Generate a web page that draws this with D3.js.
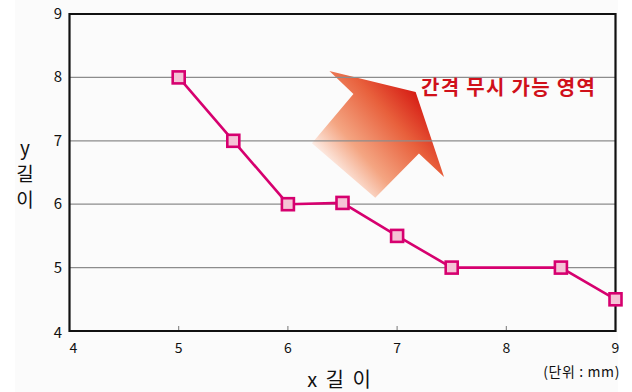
<!DOCTYPE html>
<html>
<head>
<meta charset="utf-8">
<script src="https://cdn.jsdelivr.net/npm/d3@7"></script>
<style>
  html, body { margin: 0; padding: 0; background: #ffffff; }
  svg { display: block; }
  text { font-family: "Noto Sans CJK KR", "Noto Sans", sans-serif; }
</style>
</head>
<body>
<svg id="chart" width="632" height="392"></svg>
<script>
// Measured length pairs (mm)
const xValues = [5, 5.5, 6, 6.5, 7, 7.5, 8.5, 9];
const yValues = [8, 7, 6, 6.02, 5.5, 5, 5, 4.5];
const xTicks = [4, 5, 6, 7, 8, 9];
const yTicks = [4, 5, 6, 7, 8, 9];
const regionLabel = "간격 무시 가능 영역";
const unitLabel = "(단위 : mm)";

const svg = d3.select("#chart");
const margin = { left: 69.5, right: 615.5, top: 14, bottom: 331 };

const x = d3.scaleLinear().domain([4, 9]).range([margin.left, margin.right]);
const y = d3.scaleLinear().domain([4, 9]).range([margin.bottom, margin.top]);

// light panel behind the chart
svg.append("rect").attr("x", 15).attr("y", 0).attr("width", 603).attr("height", 392)
  .attr("fill", "#fbfbfb");

// gradient arrow marking the negligible-gap region
const defs = svg.append("defs");
const grad = defs.append("linearGradient").attr("id", "arrowGrad")
  .attr("gradientUnits", "userSpaceOnUse")
  .attr("x1", x(7.2)).attr("y1", y(7.95))
  .attr("x2", x(6.3)).attr("y2", y(6.6));
grad.append("stop").attr("offset", 0).attr("stop-color", "#d10a0a");
grad.append("stop").attr("offset", 0.35).attr("stop-color", "#e8603c");
grad.append("stop").attr("offset", 0.7).attr("stop-color", "#f4a582");
grad.append("stop").attr("offset", 1).attr("stop-color", "#ffffff");

const arrowPts = [
  [6.38, 8.1], [7.17, 7.77], [7.43, 6.43], [7.2, 6.8],
  [6.8, 6.1], [6.22, 6.96], [6.6, 7.74]
];
svg.append("polygon")
  .attr("points", arrowPts.map(p => [x(p[0]), y(p[1])].join(",")).join(" "))
  .attr("fill", "url(#arrowGrad)");

// horizontal grid lines
svg.append("g").selectAll("line")
  .data(yTicks.filter(t => t > 4 && t < 9))
  .join("line")
  .attr("x1", margin.left).attr("x2", margin.right)
  .attr("y1", d => y(d)).attr("y2", d => y(d))
  .attr("stroke", "#8c8c8c").attr("stroke-width", 1.2);

// small inner tick marks on the x axis
svg.append("g").selectAll("line")
  .data(xTicks.filter(t => t > 4 && t < 9))
  .join("line")
  .attr("x1", d => x(d)).attr("x2", d => x(d))
  .attr("y1", margin.bottom).attr("y2", margin.bottom - 5)
  .attr("stroke", "#777").attr("stroke-width", 1);

// frame
svg.append("path")
  .attr("d", `M${margin.left},${margin.bottom} V${margin.top} H${margin.right} V${margin.bottom} Z`)
  .attr("fill", "none").attr("stroke", "#111").attr("stroke-width", 2.2);

// tick labels
svg.append("g").selectAll("text")
  .data(xTicks).join("text")
  .attr("x", d => x(d) + (d === 4 ? 4 : 0)).attr("y", 353)
  .attr("text-anchor", "middle").attr("font-size", 14).attr("fill", "#111")
  .text(d => d);
svg.append("g").selectAll("text")
  .data(yTicks).join("text")
  .attr("x", 62).attr("y", d => y(d) + 5 + (d === 4 ? 2 : 0))
  .attr("text-anchor", "end").attr("font-size", 15).attr("fill", "#111")
  .text(d => d);

// data line and markers
const pts = xValues.map((v, i) => [v, yValues[i]]);
svg.append("path").datum(pts)
  .attr("d", d3.line().x(d => x(d[0])).y(d => y(d[1])))
  .attr("fill", "none").attr("stroke", "#d6006f").attr("stroke-width", 2.6);
svg.append("g").selectAll("rect")
  .data(pts).join("rect")
  .attr("x", d => x(d[0]) - 6).attr("y", d => y(d[1]) - 6)
  .attr("width", 12).attr("height", 12)
  .attr("fill", "#f5c3d6").attr("stroke", "#d6006f").attr("stroke-width", 2.6);

// annotation text
svg.append("text")
  .attr("x", 421).attr("y", 95)
  .attr("font-size", 20).attr("font-weight", "bold").attr("fill", "#d0101a")
  .attr("letter-spacing", 1.3)
  .text(regionLabel);

// axis titles: vertical y title, one character per line
svg.append("g").selectAll("text")
  .data(["y", "길", "이"]).join("text")
  .attr("x", 25).attr("y", (d, i) => 155 + i * 26)
  .attr("text-anchor", "middle").attr("font-size", 19).attr("fill", "#111")
  .text(d => d);
svg.append("text")
  .attr("x", 340).attr("y", 387).attr("text-anchor", "middle")
  .attr("font-size", 20).attr("fill", "#111").attr("letter-spacing", 2)
  .text("x 길 이");

svg.append("text")
  .attr("x", 620).attr("y", 377).attr("text-anchor", "end")
  .attr("font-size", 14).attr("fill", "#111").attr("letter-spacing", 0.6)
  .text(unitLabel);
</script>
</body>
</html>
